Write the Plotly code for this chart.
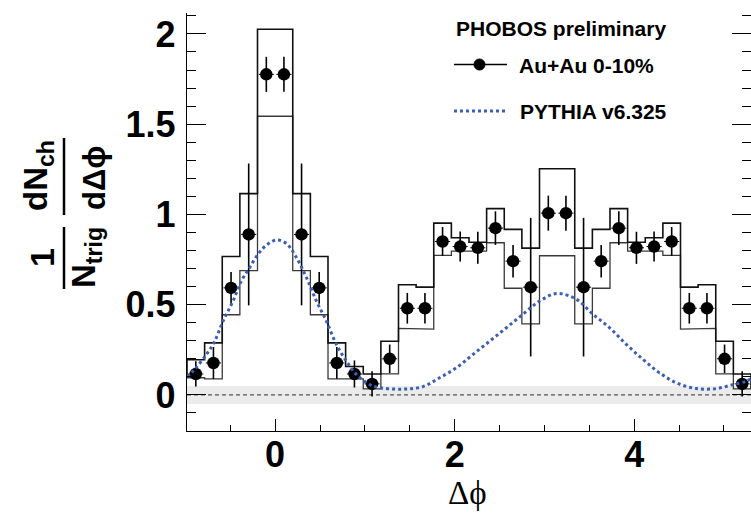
import plotly.graph_objects as go

# ---------------- data ----------------
dphi = [-0.8836, -0.6872, -0.4909, -0.2945, -0.0982, 0.0982, 0.2945, 0.4909,
        0.6872, 0.8836, 1.0799, 1.2763, 1.4726, 1.6690, 1.8653, 2.0617,
        2.2580, 2.4544, 2.6507, 2.8471, 3.0434, 3.2398, 3.4361, 3.6325,
        3.8288, 4.0252, 4.2215, 4.4179, 4.6142, 4.8106, 5.0069, 5.2033]
bin_width = 0.1963

auau = [0.116, 0.177, 0.593, 0.889, 1.776, 1.776, 0.889, 0.593,
        0.177, 0.116, 0.061, 0.200, 0.480, 0.480, 0.850, 0.822,
        0.815, 0.924, 0.741, 0.597, 1.007, 1.007, 0.597, 0.741,
        0.924, 0.815, 0.822, 0.850, 0.480, 0.480, 0.200, 0.061]

auau_stat = [0.070, 0.088, 0.088, 0.393, 0.097, 0.097, 0.393, 0.088,
             0.088, 0.075, 0.070, 0.079, 0.085, 0.085, 0.080, 0.083,
             0.089, 0.093, 0.090, 0.384, 0.097, 0.097, 0.384, 0.090,
             0.093, 0.089, 0.083, 0.080, 0.085, 0.085, 0.079, 0.070]

sys_hi = [0.195, 0.288, 0.767, 1.115, 2.026, 2.026, 1.115, 0.767,
          0.288, 0.157, 0.116, 0.297, 0.610, 0.597, 0.952, 0.871,
          0.846, 1.032, 0.917, 0.813, 1.253, 1.253, 0.813, 0.917,
          1.032, 0.846, 0.871, 0.952, 0.597, 0.610, 0.297, 0.116]
sys_lo = [0.095, 0.089, 0.444, 0.689, 1.544, 1.544, 0.689, 0.444,
          0.089, 0.089, 0.033, 0.116, 0.369, 0.365, 0.773, 0.797,
          0.797, 0.843, 0.591, 0.394, 0.771, 0.771, 0.394, 0.591,
          0.843, 0.797, 0.797, 0.773, 0.365, 0.369, 0.116, 0.033]

pythia_x = [-0.98, -0.914, -0.765, -0.673, -0.58, -0.469, -0.375, -0.283,
            -0.19, -0.09, 0.014, 0.126, 0.237, 0.349, 0.46, 0.571, 0.683,
            0.794, 0.905, 1.053, 1.128, 1.424, 1.647, 1.833, 2.019, 2.204,
            2.39, 2.576, 2.761, 2.947, 3.14, 3.355, 3.54, 3.726, 3.912,
            4.097, 4.283, 4.469, 4.692, 4.914, 5.1, 5.25, 5.30]
pythia_y = [0.100, 0.132, 0.224, 0.298, 0.409, 0.520, 0.632, 0.706,
            0.780, 0.832, 0.858, 0.839, 0.761, 0.650, 0.520, 0.409, 0.279,
            0.187, 0.113, 0.058, 0.043, 0.032, 0.046, 0.095, 0.150, 0.224,
            0.298, 0.372, 0.447, 0.520, 0.562, 0.530, 0.447, 0.372, 0.280,
            0.197, 0.122, 0.067, 0.035, 0.035, 0.057, 0.076, 0.090]

band_lo, band_hi = -0.05, 0.05
x_range = [-0.9817, 5.3014]
y_range = [-0.2, 2.116]

# ---------------- figure ----------------
W, H = 751, 514
L, R, T, B = 187, 0, 13, 83
pw, ph = W - L - R, H - T - B


def px(xp):
    return (xp - L) / pw


def py(yp):
    return (H - B - yp) / ph


fig = go.Figure()

# grey normalisation band
fig.add_trace(go.Scatter(x=x_range, y=[band_lo, band_lo], mode="lines",
                         line=dict(width=0), hoverinfo="skip", showlegend=False))
fig.add_trace(go.Scatter(x=x_range, y=[band_hi, band_hi], mode="lines",
                         line=dict(width=0), fill="tonexty", fillcolor="#ebebeb",
                         hoverinfo="skip", showlegend=False))
# zero line
fig.add_trace(go.Scatter(x=x_range, y=[0, 0], mode="lines",
                         line=dict(color="#555555", width=1.2, dash="4px,3px"),
                         hoverinfo="skip", showlegend=False))

# systematic bands drawn as upper and lower step outlines
ux = [dphi[0] - bin_width / 2]
uy = [sys_lo[0]]
for c, v in zip(dphi, sys_hi):
    ux += [c - bin_width / 2, c + bin_width / 2]
    uy += [v, v]
ux += [dphi[-1] + bin_width / 2]
uy += [sys_lo[-1]]

lx, ly = [], []
for c, v in zip(dphi, sys_lo):
    lx += [c - bin_width / 2, c + bin_width / 2]
    ly += [v, v]

fig.add_trace(go.Scatter(x=lx, y=ly, mode="lines",
                         line=dict(color="#3a3a3a", width=1.3),
                         hoverinfo="skip", showlegend=False))
fig.add_trace(go.Scatter(x=ux, y=uy, mode="lines",
                         line=dict(color="#111111", width=1.6),
                         hoverinfo="skip", showlegend=False))

# data points
fig.add_trace(go.Scatter(
    x=dphi, y=auau, mode="markers", name="Au+Au 0-10%",
    marker=dict(symbol="circle", size=12.5, color="black"),
    error_y=dict(type="data", array=auau_stat, color="black", thickness=1.6, width=0),
    error_x=dict(type="constant", value=0.084, color="black", thickness=1.0, width=0),
    showlegend=False))

# PYTHIA curve
fig.add_trace(go.Scatter(x=pythia_x, y=pythia_y, mode="lines", name="PYTHIA v6.325",
                         line=dict(color="#3a5fb5", width=3, dash="3px,3px", shape="spline"),
                         showlegend=False))

tickfont = dict(family="Liberation Sans, Arial", size=36, color="black", weight="bold")

fig.update_xaxes(range=x_range, tick0=0, dtick=2, ticks="inside", ticklen=12,
                 tickwidth=1.2, tickcolor="black", showgrid=False, zeroline=False,
                 showline=True, linecolor="black", linewidth=1.3,
                 tickfont=tickfont, ticklabelstandoff=-8,
                 minor=dict(dtick=0.5, tick0=0, ticks="inside", ticklen=6,
                            tickcolor="black", tickwidth=1.2, showgrid=False))
fig.update_yaxes(range=y_range, tick0=0, dtick=0.5, ticks="inside", ticklen=19,
                 tickwidth=1.2, tickcolor="black", showgrid=False, zeroline=False,
                 showline=True, linecolor="black", linewidth=1.3, mirror="ticks",
                 tickfont=tickfont, ticklabelstandoff=3,
                 minor=dict(dtick=0.1, tick0=0, ticks="inside", ticklen=9,
                            tickcolor="black", tickwidth=1.2, showgrid=False))

sans_b = dict(family="Liberation Sans, Arial", color="black", weight="bold")
ann = []
# y-axis title as two rotated fractions
ann.append(dict(text="1", x=px(42), y=py(258), textangle=-90, font=dict(size=34, **sans_b)))
ann.append(dict(text="N<sub>trig</sub>", x=px(86), y=py(258), textangle=-90, font=dict(size=33, **sans_b)))
ann.append(dict(text="dN<sub>ch</sub>", x=px(38), y=py(176), textangle=-90, font=dict(size=33, **sans_b)))
ann.append(dict(text="dΔϕ", x=px(94), y=py(178), textangle=-90, font=dict(size=31, **sans_b)))
# x-axis title
ann.append(dict(text="Δϕ", x=px(467), y=py(513), yanchor="bottom",
                font=dict(family="Liberation Serif, DejaVu Serif, Times New Roman", size=33, color="black")))
# legend texts
ann.append(dict(text="PHOBOS preliminary", x=px(454), y=py(29), xanchor="left",
                font=dict(size=21, **sans_b)))
ann.append(dict(text="Au+Au 0-10%", x=px(517), y=py(65), xanchor="left",
                font=dict(size=21, **sans_b)))
ann.append(dict(text="PYTHIA v6.325", x=px(518), y=py(112), xanchor="left",
                font=dict(size=21, **sans_b)))
for a in ann:
    a.setdefault("xanchor", "center")
    a.setdefault("yanchor", "middle")
    a.update(xref="paper", yref="paper", showarrow=False)

shapes = [
    # fraction bars
    dict(type="line", xref="paper", yref="paper", x0=px(64), x1=px(64), y0=py(227), y1=py(289),
         line=dict(color="black", width=2.5)),
    dict(type="line", xref="paper", yref="paper", x0=px(64), x1=px(64), y0=py(138), y1=py(215),
         line=dict(color="black", width=2.5)),
    # legend symbols
    dict(type="line", xref="paper", yref="paper", x0=px(454), x1=px(507), y0=py(64.5), y1=py(64.5),
         line=dict(color="black", width=1.3)),
    dict(type="circle", xref="paper", yref="paper", xsizemode="pixel", ysizemode="pixel",
         xanchor=px(479.5), yanchor=py(64.5), x0=-5.5, x1=5.5, y0=-5.5, y1=5.5,
         fillcolor="black", line=dict(color="black", width=1)),
    dict(type="line", xref="paper", yref="paper", x0=px(454), x1=px(505), y0=py(111), y1=py(111),
         line=dict(color="#3a5fb5", width=3, dash="3px,3px")),
]

fig.update_layout(width=W, height=H, margin=dict(l=L, r=R, t=T, b=B),
                  paper_bgcolor="white", plot_bgcolor="white",
                  showlegend=False, annotations=ann, shapes=shapes)

fig.write_html("out.html")
